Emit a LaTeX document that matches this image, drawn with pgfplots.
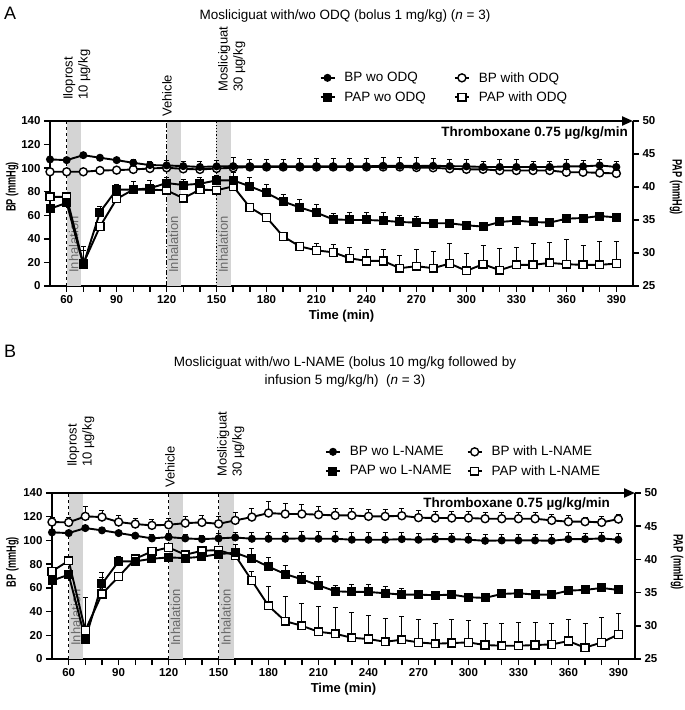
\documentclass[border=0pt]{standalone}
\usepackage{pgfplots}
\pgfplotsset{compat=1.18}
\usepackage{pgfplotstable}
\usepackage{graphicx}
\usepackage{fontspec}
\setmainfont{Liberation Sans}
\usetikzlibrary{arrows.meta}
\definecolor{band}{RGB}{212,212,212}
\definecolor{inh}{RGB}{105,105,105}

\pgfplotstableread{
t bw bwe bh bhe pw pwe ph phe
50 107.4 1.5 96.9 1 36.7 0.5 38.5 0.5
60 106.8 1.5 96.9 1 37.6 0.5 38.5 0.5
70 111.0 1.5 96.9 1 28.2 2.8 28.4 2.0
80 108.8 1.5 98.0 1 36.2 0.9 34.0 0.6
90 106.8 2.5 98.3 1 39.6 0.8 38.2 0.6
100 104.5 3 98.9 1 39.6 1.3 39.6 0.5
110 102.6 3.5 99.7 1 39.8 1.2 39.6 0.5
120 102.3 4 100.3 1 40.6 0.8 39.5 0.5
130 101.7 4 99.4 1 40.3 0.9 38.3 0.5
140 101.0 5 98.9 1 40.5 0.9 39.6 0.5
150 101.5 5 99.7 1 41.0 0.8 39.5 0.5
160 101.7 7 100.3 1 41.0 1.2 40.1 0.5
170 101.5 6 101.0 1 40.1 1.3 36.9 0.5
180 101.5 6 101.0 1 39.1 1.3 35.4 0.5
190 101.5 6 101.0 1 37.8 1.1 32.5 0.5
200 101.5 7 101.0 1 36.9 1.2 31.0 0.5
210 101.5 7 101.0 1 36.1 1.3 30.4 1.0
220 101.5 7 101.0 1 35.1 0.9 30.1 1.2
230 101.5 7 101.0 1 35.0 1.1 29.2 1.7
240 101.5 7 101.0 1 35.0 1.2 28.8 1.7
250 102.0 7 101.0 1 34.9 1.2 28.8 1.7
260 102.0 7 101.0 1 34.7 1.0 27.7 2.0
270 101.8 7 100.5 1 34.6 0.9 28.0 2.5
280 102.0 6 100.3 1 34.5 0.6 27.7 2.5
290 101.7 6 99.5 1 34.5 0.5 28.4 3.0
300 101.5 6 99.0 1 34.2 0.5 27.3 2.7
310 101.0 5 99.0 1 34.0 0.5 28.3 2.9
320 101.0 6 98.0 1 34.7 0.5 27.4 3.3
330 101.0 6 98.0 1 34.9 0.5 28.2 2.6
340 101.0 5 98.0 1 34.7 0.5 28.2 3.3
350 101.0 5 98.0 1 34.6 0.5 28.5 3.1
360 101.5 6 96.5 1 35.2 0.5 28.3 3.8
370 101.5 5 96.5 1 35.3 0.5 28.2 3.0
380 102.3 5 96.0 1 35.6 0.5 28.2 3.5
390 101.0 5 95.5 1 35.4 0.5 28.4 3.3
}\dataA

\pgfplotstableread{
t bw bwe bh bhe pw pwe ph phe
50 106.8 2 115.5 4 36.8 0.5 38.2 0.5
60 106.2 2 115.2 4 37.7 0.5 39.8 0.5
70 110.4 2 120.3 8 28.0 1.0 29.3 5.0
80 108.5 2 119.7 6 36.3 1.0 34.8 3.3
90 106.2 2 115.5 6 39.7 0.8 37.4 0.5
100 104.0 2 113.8 5 39.7 0.8 40.1 0.5
110 101.7 3 112.7 5 40.1 0.5 41.2 0.5
120 102.8 3 113.2 5 40.3 0.5 41.8 0.5
130 101.7 3 114.6 6 40.2 0.5 40.7 0.5
140 101.1 3 115.2 6 40.4 0.5 41.3 0.5
150 101.7 4 114.0 6 40.8 0.5 41.4 0.5
160 102.5 4 116.9 7 41.0 1.2 40.6 0.5
170 101.4 5 119.7 7 40.1 1.5 36.8 1.4
180 101.4 5 123.1 10 38.9 1.4 33.0 3.0
190 101.4 5 122.3 9 37.8 1.3 30.7 3.8
200 101.7 6 122.3 8 37.0 1.0 30.0 3.4
210 101.4 6 121.7 7 36.1 1.3 29.1 3.8
220 101.4 6 121.1 6 35.2 0.9 28.8 4.0
230 100.6 6 121.1 6 35.1 1.1 28.2 3.8
240 100.6 6 120.3 6 35.1 1.1 28.0 3.6
250 100.6 6 120.3 6 34.9 1.0 27.6 3.5
260 101.1 6 120.8 6 34.7 1.0 27.9 3.5
270 100.6 5 119.2 6 34.7 0.7 27.5 3.4
280 101.1 5 118.9 6 34.6 0.5 27.3 3.1
290 101.1 5 118.9 6 34.7 0.5 27.4 3.5
300 100.6 5 118.9 6 34.3 0.5 27.5 3.3
310 99.7 5 118.3 5 34.2 0.5 27.1 3.2
320 100.0 5 118.3 5 34.8 0.5 27.0 3.4
330 100.0 5 118.3 5 34.9 0.5 27.0 3.5
340 100.0 5 118.3 5 34.7 0.5 27.1 3.4
350 99.7 5 116.9 5 34.7 0.5 27.2 3.2
360 101.1 6 115.8 5 35.3 0.5 27.7 3.2
370 101.1 5 115.8 4 35.4 0.5 26.7 3.7
380 101.7 5 115.2 5 35.7 0.5 27.5 3.7
390 100.6 5 118.0 4 35.4 0.5 28.7 3.1
}\dataB

\tikzset{
  annot/.style={rotate=90, anchor=north west, align=left, inner sep=0pt, font=\fontsize{13}{15}\selectfont},
  inhal/.style={rotate=90, anchor=west, inner sep=0pt, text=inh, font=\fontsize{13}{15}\selectfont},
  lab/.style={font=\fontsize{13}{15}\selectfont\bfseries},
  ylab/.style={anchor=center, inner sep=0pt, font=\fontsize{13.5}{15}\selectfont\bfseries},
}
\newcommand{\narrowlab}[1]{\scalebox{0.68}[1]{#1}}
\newcommand{\gap}{\hspace*{8pt}}

\pgfplotsset{
  base/.style={scale only axis, width=583pt, xmin=50, xmax=400, clip=false,
    tick align=outside, major tick length=6pt, minor tick length=6pt,
    tick style={line width=1.5pt, black},
    axis line style={line width=2.2pt, -},
    tick label style={font=\fontsize{11.5}{13}\selectfont\bfseries},
    /pgf/number format/assume math mode=true,
    legend image code/.code={\draw[#1, mark repeat=2, mark phase=2] plot coordinates {(0pt,0pt) (7pt,0pt) (14pt,0pt)};},
    legend cell align=left, legend columns=2,
  },
  ln/.style={line width=1.9pt, black},
  eb/.style={error bars/y dir=plus, error bars/y explicit,
    error bars/error bar style={line width=0.8pt, black},
    error bars/error mark options={rotate=90, mark size=2.5pt, line width=0.8pt, black}},
  fc/.style={ln, mark=*, mark size=3.4pt, mark options={solid, line width=1.2pt, fill=black}},
  oc/.style={ln, mark=*, mark size=4pt, mark options={solid, line width=1.4pt, fill=white}},
  fs/.style={ln, mark=square*, mark size=3.9pt, mark options={solid, line width=1.2pt, fill=black}},
  os/.style={ln, mark=square*, mark size=3.9pt, mark options={solid, line width=1.4pt, fill=white}},
  leg/.style={legend style={draw=none, fill=none, anchor=west,
    font=\fontsize{13.5}{15}\selectfont, inner sep=0pt, row sep=5pt,
    nodes={inner xsep=1pt, inner ysep=1.5pt}}},
}

\begin{document}
\begin{tikzpicture}
\useasboundingbox (0pt,0pt) rectangle (685pt,710pt);

% ---------- titles ----------
\node[anchor=west, inner sep=0pt, font=\fontsize{18}{20}\selectfont] at (4pt,697pt) {A};
\node[font=\fontsize{13.5}{16}\selectfont] at (345pt,694pt) {Mosliciguat with/wo ODQ (bolus 1 mg/kg) (\textit{n} = 3)};
\node[anchor=west, inner sep=0pt, font=\fontsize{18}{20}\selectfont] at (4pt,359pt) {B};
\node[align=center, font=\fontsize{13.5}{18}\selectfont] at (345pt,338pt) {Mosliciguat with/wo L-NAME (bolus 10 mg/kg followed by\\infusion 5 mg/kg/h)\ \ (\textit{n} = 3)};

% ================= PANEL A =================
\begin{axis}[base, at={(50pt,424pt)}, anchor=south west, height=165pt,
  ymin=0, ymax=140, axis x line*=bottom, axis y line*=left,
  xtick={60,90,...,390}, minor xtick={70,80,...,390}, ytick={0,20,...,140},
  xlabel={Time (min)}, xlabel style={lab}]
\fill[band] (axis cs:60,0) rectangle (axis cs:68.4,140);
\fill[band] (axis cs:120,0) rectangle (axis cs:128.4,140);
\fill[band] (axis cs:149.6,0) rectangle (axis cs:158.4,140);
\draw[dashed, line width=1.2pt] (axis cs:60,0) -- (axis cs:60,140);
\draw[dash pattern=on 5pt off 2pt on 1.5pt off 2pt, line width=1.2pt] (axis cs:120,0) -- (axis cs:120,140);
\draw[dotted, line width=1.2pt] (axis cs:150,0) -- (axis cs:150,140);
\node[inhal] at (axis cs:64.2,11) {Inhalation};
\node[inhal] at (axis cs:124.2,11) {Inhalation};
\node[inhal] at (axis cs:154,11) {Inhalation};
\node[annot] at ([yshift=21pt]axis cs:57.8,140) {Iloprost\\10 µg/kg};
\node[annot] at ([yshift=4pt]axis cs:117.2,140) {Vehicle};
\node[annot] at ([yshift=29pt]axis cs:150.8,140) {Mosliciguat\\30 µg/kg};
\node[ylab, rotate=90] at (rel axis cs:-0.065,0.60) {\narrowlab{BP (mmHg)}};
\addplot[oc, eb] table[x=t, y=bh, y error=bhe] {\dataA};
\addplot[fc, eb] table[x=t, y=bw, y error=bwe] {\dataA};
\end{axis}

\begin{axis}[base, at={(50pt,424pt)}, anchor=south west, height=165pt,
  ymin=25, ymax=50, axis y line*=right, axis x line=none, ytick={25,30,...,50},
  leg, legend style={at={(axis description cs:0.462,1.203)},
    /tikz/every even column/.append style={column sep=27pt}}]
\addlegendimage{fc}\addlegendentry{\gap BP wo ODQ}
\addlegendimage{oc}\addlegendentry{\gap BP with ODQ}
\addlegendimage{fs}\addlegendentry{\gap PAP wo ODQ}
\addlegendimage{os}\addlegendentry{\gap PAP with ODQ}
\addplot[os, eb, forget plot] table[x=t, y=ph, y error=phe] {\dataA};
\addplot[fs, eb, forget plot] table[x=t, y=pw, y error=pwe] {\dataA};
\draw[line width=2.2pt, -{Triangle[length=11pt, width=9pt]}] (rel axis cs:0,1) -- (rel axis cs:1,1);
\node[anchor=north east, inner sep=0pt, font=\fontsize{13.5}{15}\selectfont\bfseries] at ([xshift=-5pt, yshift=-6pt]rel axis cs:1,1) {Thromboxane 0.75 µg/kg/min};
\node[ylab, rotate=-90] at (rel axis cs:1.074,0.60) {\narrowlab{PAP (mmHg)}};
\end{axis}

% ================= PANEL B =================
\begin{axis}[base, at={(52pt,51pt)}, anchor=south west, height=166pt,
  ymin=0, ymax=140, axis x line*=bottom, axis y line*=left,
  xtick={60,90,...,390}, minor xtick={70,80,...,390}, ytick={0,20,...,140},
  xlabel={Time (min)}, xlabel style={lab}]
\fill[band] (axis cs:60,0) rectangle (axis cs:68.4,140);
\fill[band] (axis cs:120,0) rectangle (axis cs:128.4,140);
\fill[band] (axis cs:150,0) rectangle (axis cs:159,140);
\draw[dashed, line width=1.2pt] (axis cs:60,0) -- (axis cs:60,140);
\draw[dashed, line width=1.2pt] (axis cs:120,0) -- (axis cs:120,140);
\draw[dashed, line width=1.2pt] (axis cs:150,0) -- (axis cs:150,140);
\node[inhal] at (axis cs:64.2,11) {Inhalation};
\node[inhal] at (axis cs:124.2,11) {Inhalation};
\node[inhal] at (axis cs:154.5,11) {Inhalation};
\node[annot] at ([yshift=26pt]axis cs:59,140) {Iloprost\\10 µg/kg};
\node[annot] at ([yshift=5pt]axis cs:117.8,140) {Vehicle};
\node[annot] at ([yshift=16pt]axis cs:149,140) {Mosliciguat\\30 µg/kg};
\node[ylab, rotate=90] at (rel axis cs:-0.068,0.584) {\narrowlab{BP (mmHg)}};
\addplot[oc, eb] table[x=t, y=bh, y error=bhe] {\dataB};
\addplot[fc, eb] table[x=t, y=bw, y error=bwe] {\dataB};
\end{axis}

\begin{axis}[base, at={(52pt,51pt)}, anchor=south west, height=166pt,
  ymin=25, ymax=50, axis y line*=right, axis x line=none, ytick={25,30,...,50},
  leg, legend style={at={(axis description cs:0.468,1.19)},
    /tikz/every even column/.append style={column sep=14pt}}]
\addlegendimage{fc}\addlegendentry{\gap BP wo L-NAME}
\addlegendimage{oc}\addlegendentry{\gap BP with L-NAME}
\addlegendimage{fs}\addlegendentry{\gap PAP wo L-NAME}
\addlegendimage{os}\addlegendentry{\gap PAP with L-NAME}
\addplot[os, eb, forget plot] table[x=t, y=ph, y error=phe] {\dataB};
\addplot[fs, eb, forget plot] table[x=t, y=pw, y error=pwe] {\dataB};
\draw[line width=2.2pt, -{Triangle[length=11pt, width=9pt]}] (rel axis cs:0,1) -- (rel axis cs:1,1);
\node[anchor=north east, inner sep=0pt, font=\fontsize{13.5}{15}\selectfont\bfseries] at ([xshift=-25pt, yshift=-5pt]rel axis cs:1,1) {Thromboxane 0.75 µg/kg/min};
\node[ylab, rotate=-90] at (rel axis cs:1.072,0.584) {\narrowlab{PAP (mmHg)}};
\end{axis}
\end{tikzpicture}
\end{document}
